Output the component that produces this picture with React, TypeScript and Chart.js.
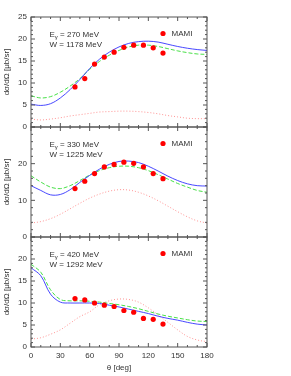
import React, { useEffect, useRef } from 'react';
import { Chart, registerables } from 'chart.js';
Chart.register(...registerables);

const angles = [0, 10, 20, 30, 40, 50, 60, 70, 80, 90, 100, 110, 120, 130, 140, 150, 160, 170, 180];
const mamiAngles = [45, 55, 65, 75, 85, 95, 105, 115, 125, 135];

// Panel 1: E = 270 MeV
const p1Mami = [9.1, 11.0, 14.3, 15.9, 17.0, 18.1, 18.6, 18.6, 18.0, 16.8];
const p1Blue = [5.2, 4.9, 5.3, 6.6, 8.5, 10.8, 13.3, 15.4, 17.0, 18.2, 19.0, 19.4, 19.5, 19.3, 18.8, 18.3, 17.9, 17.6, 17.4];
const p1Green = [7.1, 6.6, 6.9, 7.9, 9.3, 11.0, 13.1, 14.9, 16.3, 17.4, 18.2, 18.6, 18.6, 18.3, 17.8, 17.3, 16.9, 16.6, 16.5];
const p1Red = [1.8, 1.6, 1.8, 2.1, 2.5, 2.8, 3.1, 3.4, 3.5, 3.6, 3.6, 3.5, 3.3, 3.0, 2.6, 2.3, 2.0, 1.9, 1.9];

// Panel 2: E = 330 MeV
const p2Mami = [13.2, 15.2, 17.3, 19.1, 19.8, 20.4, 20.1, 19.1, 17.3, 15.9];
const p2Blue = [14.0, 12.7, 11.5, 11.6, 12.9, 14.9, 16.8, 18.5, 19.8, 20.6, 20.7, 20.3, 19.3, 18.0, 16.6, 15.4, 14.5, 14.0, 13.9];
const p2Green = [16.7, 15.0, 13.6, 13.2, 14.0, 15.4, 16.9, 18.1, 18.9, 19.3, 19.3, 18.9, 18.1, 17.0, 15.8, 14.6, 13.6, 12.7, 12.2];
const p2Red = [3.8, 4.2, 5.0, 6.2, 7.7, 9.2, 10.6, 11.7, 12.5, 12.9, 12.8, 12.2, 11.2, 9.9, 8.4, 6.9, 5.5, 4.4, 3.8];

// Panel 3: E = 420 MeV
const p3Mami = [11.0, 10.7, 10.0, 9.5, 9.2, 8.3, 7.9, 6.5, 6.3, 5.2];
const p3Blue = [18.0, 16.2, 12.0, 10.2, 10.0, 10.0, 10.0, 9.9, 9.5, 9.1, 8.6, 8.1, 7.6, 7.0, 6.5, 6.1, 5.6, 5.2, 5.0];
const p3Green = [18.8, 17.0, 13.0, 10.8, 10.5, 10.5, 10.4, 10.2, 9.9, 9.6, 9.2, 8.7, 8.1, 7.5, 7.0, 6.6, 6.2, 5.9, 5.8];
const p3Red = [1.8, 2.1, 2.9, 3.9, 5.4, 6.9, 8.0, 9.6, 10.5, 10.9, 10.8, 10.2, 8.9, 7.3, 5.6, 3.9, 2.4, 1.6, 1.2];

const energies = ['270', '330', '420'];
const wValues = ['1178', '1225', '1292'];
const yMaxes = [25, 30, 25];
const yMajor = [5, 10, 5];
const yMinor = [1, 2, 1];

const FONT = "'Liberation Sans', Arial, Helvetica, sans-serif";
const TXT = '#333';

const toXY = (xs: number[], ys: number[]) => xs.map((x, i) => ({ x, y: ys[i] }));

const frameTicks = {
  id: 'frameTicks',
  afterDatasetsDraw(chart: any, _args: any, opts: any) {
    const { ctx, chartArea: a, scales } = chart;
    const x = scales.x;
    const y = scales.y;
    ctx.save();
    ctx.strokeStyle = '#555';
    ctx.lineWidth = 1;
    const line = (x1: number, y1: number, x2: number, y2: number) => {
      ctx.beginPath();
      ctx.moveTo(x1, y1);
      ctx.lineTo(x2, y2);
      ctx.stroke();
    };
    for (let v = 0; v <= 180; v += 10) {
      const px = x.getPixelForValue(v);
      const len = v % 30 === 0 ? 4 : 2;
      line(px, a.bottom, px, a.bottom - len);
      line(px, a.top, px, a.top + len);
    }
    for (let v = 0; v <= opts.ymax + 1e-9; v += opts.minor) {
      const py = y.getPixelForValue(v);
      const len = Math.abs(v / opts.major - Math.round(v / opts.major)) < 1e-6 ? 4 : 2;
      line(a.left, py, a.left + len, py);
      line(a.right, py, a.right - len, py);
    }
    ctx.strokeRect(a.left, a.top, a.right - a.left, a.bottom - a.top);

    // labels
    ctx.fillStyle = TXT;
    ctx.textBaseline = 'alphabetic';
    ctx.textAlign = 'left';
    const bx = 49.5;
    const by = a.top + 19.5;
    ctx.font = `8px ${FONT}`;
    ctx.fillText('E', bx, by);
    const ew = ctx.measureText('E').width;
    ctx.font = `6px ${FONT}`;
    ctx.fillText('γ', bx + ew, by + 2.5);
    const gw = ctx.measureText('γ').width;
    ctx.font = `8px ${FONT}`;
    ctx.fillText(` = ${opts.energy} MeV`, bx + ew + gw, by);
    ctx.fillText(`W = ${opts.w} MeV`, bx, a.top + 29.5);

    // legend
    ctx.beginPath();
    ctx.fillStyle = '#ff0000';
    ctx.arc(163, a.top + 16.5, 2.6, 0, Math.PI * 2);
    ctx.fill();
    ctx.fillStyle = TXT;
    ctx.textBaseline = 'middle';
    ctx.fillText('MAMI', 171.5, a.top + 17);
    ctx.restore();
  },
};

const panelData = [
  { mami: p1Mami, blue: p1Blue, green: p1Green, red: p1Red },
  { mami: p2Mami, blue: p2Blue, green: p2Green, red: p2Red },
  { mami: p3Mami, blue: p3Blue, green: p3Green, red: p3Red },
];

const paddings = [
  { top: 17, bottom: 249, left: 0, right: 84 },
  { top: 127, bottom: 139, left: 0, right: 84 },
  { top: 237, bottom: 0, left: 0, right: 84 },
];

export default function App() {
  const r0 = useRef<HTMLCanvasElement>(null);
  const r1 = useRef<HTMLCanvasElement>(null);
  const r2 = useRef<HTMLCanvasElement>(null);

  useEffect(() => {
    const refs = [r0, r1, r2];
    const charts = refs.map((ref, i) => {
      const d = panelData[i];
      const isLast = i === 2;
      const ymax = yMaxes[i];
      return new Chart(ref.current as HTMLCanvasElement, {
        type: 'line',
        data: {
          datasets: [
            {
              type: 'scatter',
              data: toXY(mamiAngles, d.mami),
              backgroundColor: '#ff0000',
              borderWidth: 0,
              pointRadius: 2.6,
              showLine: false,
            } as any,
            {
              data: toXY(angles, d.blue),
              borderColor: '#3333ff',
              borderWidth: 0.9,
              pointRadius: 0,
              tension: 0.35,
              fill: false,
            },
            {
              data: toXY(angles, d.green),
              borderColor: '#33dd33',
              borderWidth: 0.9,
              borderDash: [4, 2],
              pointRadius: 0,
              tension: 0.35,
              fill: false,
            },
            {
              data: toXY(angles, d.red),
              borderColor: '#ff8888',
              borderWidth: 0.9,
              borderDash: [1, 2],
              pointRadius: 0,
              tension: 0.35,
              fill: false,
            },
          ],
        },
        options: {
          responsive: false,
          animation: false,
          events: [],
          layout: { padding: paddings[i] },
          font: { family: FONT },
          plugins: {
            legend: { display: false },
            tooltip: { enabled: false },
            frameTicks: { ymax, major: yMajor[i], minor: yMinor[i], energy: energies[i], w: wValues[i] },
          } as any,
          scales: {
            x: {
              type: 'linear',
              min: 0,
              max: 180,
              display: isLast,
              afterFit: (s: any) => { s.height = isLast ? 29 : 0; },
              ticks: { stepSize: 30, padding: 4, color: TXT, font: { size: 8, family: FONT } },
              grid: { display: false, drawTicks: false },
              border: { display: false },
              title: { display: true, text: 'θ [deg]', color: TXT, font: { size: 8, family: FONT }, padding: { top: 0, bottom: 3 } },
            },
            y: {
              type: 'linear',
              min: 0,
              max: ymax,
              afterFit: (s: any) => { s.width = 31; },
              ticks: {
                stepSize: yMajor[i],
                padding: 4,
                color: TXT,
                font: { size: 8, family: FONT },
                callback: (v: any) => (i > 0 && v === ymax ? '' : String(v)),
              },
              grid: { display: false, drawTicks: false },
              border: { display: false },
              title: { display: true, text: 'dσ/dΩ [μb/sr]', color: TXT, font: { size: 8, family: FONT }, padding: { top: 2, bottom: 0 } },
            },
          },
        },
        plugins: [frameTicks],
      } as any);
    });
    return () => charts.forEach((c) => c.destroy());
  }, []);

  const cs: React.CSSProperties = { position: 'absolute', left: 0, top: 0 };
  return (
    <div style={{ position: 'absolute', left: 0, top: 0, width: 291, height: 376, background: '#fff' }}>
      <canvas ref={r0} width={291} height={376} style={cs} />
      <canvas ref={r1} width={291} height={376} style={cs} />
      <canvas ref={r2} width={291} height={376} style={cs} />
    </div>
  );
}
